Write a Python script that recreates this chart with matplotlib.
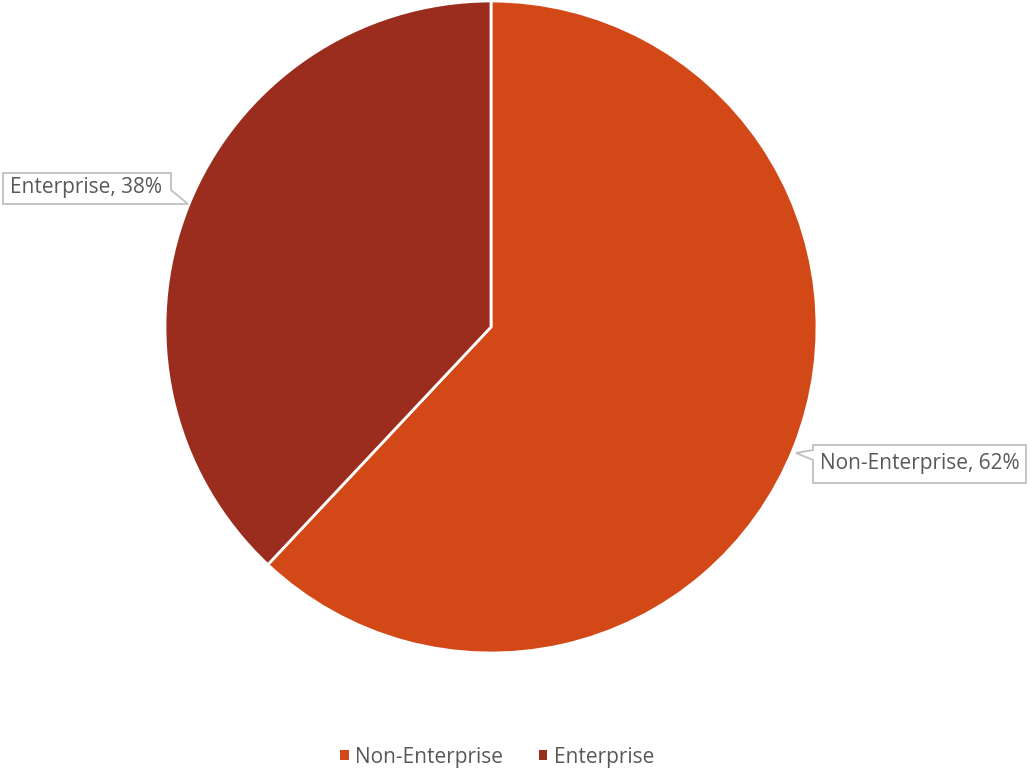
import matplotlib.pyplot as plt
from matplotlib.patches import Polygon, Patch

# Share of accounts by segment
segments = ['Non-Enterprise', 'Enterprise']
shares = [62, 38]
colors = ['#D34817', '#9B2D1F']

W, H = 1033, 773
plt.rcParams['font.family'] = ['Open Sans', 'DejaVu Sans']

fig = plt.figure(figsize=(W / 100, H / 100), dpi=100)

# pie axes placed in pixel terms: centre (491, 327), radius 326
cx, cy, r = 491, 327, 326
ax = fig.add_axes([(cx - r) / W, 1 - (cy + r) / H, 2 * r / W, 2 * r / H])
ax.pie(shares, colors=colors, startangle=90, counterclock=False,
       wedgeprops=dict(edgecolor='white', linewidth=2))
ax.set_xlim(-1, 1)
ax.set_ylim(-1, 1)
ax.set_aspect('equal')
ax.axis('off')


def px(pts):
    return [(x / W, 1 - y / H) for x, y in pts]


def callout(text, outline, tx, ty):
    # box outline with a small pointer tail, in pixel coordinates
    poly = Polygon(px(outline), closed=True, transform=fig.transFigure,
                   facecolor='white', edgecolor='#BFBFBF', linewidth=1.3,
                   zorder=5)
    fig.add_artist(poly)
    fig.text(tx / W, 1 - ty / H, text, ha='center', va='center',
             fontsize=15, color='#595959', zorder=6)


labels = [f'{s}, {v}%' for s, v in zip(segments, shares)]

# Non-Enterprise callout (right side, tail points left)
callout(labels[0],
        [(813, 445), (1026, 445), (1026, 483), (813, 483), (813, 460),
         (796, 453), (813, 450)],
        920, 463)

# Enterprise callout (left side, tail points right)
callout(labels[1],
        [(3, 173), (171, 173), (171, 190), (188, 204), (171, 204),
         (3, 204)],
        86, 188)

handles = [Patch(facecolor=c, edgecolor='none') for c in colors]
fig.legend(handles, segments, loc='center', bbox_to_anchor=(497 / W, 1 - 757 / H),
           ncol=2, frameon=False, fontsize=15, labelcolor='#595959',
           handlelength=0.42, handleheight=0.42, handletextpad=0.3,
           columnspacing=1.7)

fig.savefig('out.png', dpi=100, facecolor='white')
